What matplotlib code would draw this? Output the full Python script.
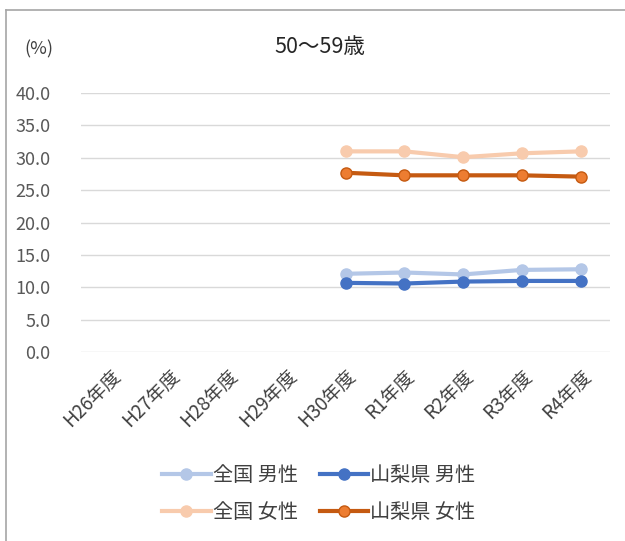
import matplotlib
matplotlib.use('Agg')
import matplotlib.pyplot as plt
from matplotlib.lines import Line2D

plt.rcParams['font.family'] = ['Noto Sans CJK JP', 'DejaVu Sans']

categories = ['H26年度', 'H27年度', 'H28年度', 'H29年度', 'H30年度',
              'R1年度', 'R2年度', 'R3年度', 'R4年度']
# only the last five years have values
zenkoku_male = [None, None, None, None, 12.1, 12.3, 12.0, 12.7, 12.8]
yamanashi_male = [None, None, None, None, 10.7, 10.6, 10.9, 11.0, 11.0]
zenkoku_female = [None, None, None, None, 31.0, 31.0, 30.1, 30.7, 31.0]
yamanashi_female = [None, None, None, None, 27.7, 27.3, 27.3, 27.3, 27.1]
yticks = [0, 5, 10, 15, 20, 25, 30, 35, 40]

fig = plt.figure(figsize=(6.25, 5.41), dpi=100)
ax = fig.add_axes([0.13, 0.349, 0.846, 0.479])

x = list(range(len(categories)))


def to_nan(vals):
    return [float('nan') if v is None else v for v in vals]


series = {
    '全国 男性': (zenkoku_male, '#B4C7E7', '#B4C7E7', '#B4C7E7'),
    '山梨県 男性': (yamanashi_male, '#4472C4', '#4472C4', '#4472C4'),
    '全国 女性': (zenkoku_female, '#F8CBAD', '#F8CBAD', '#F8CBAD'),
    '山梨県 女性': (yamanashi_female, '#C55A11', '#ED7D31', '#C55A11'),
}
handles = {}
for name, (vals, lc, mfc, mec) in series.items():
    ax.plot(x, to_nan(vals), color=lc, lw=3, marker='o', ms=8,
            mfc=mfc, mec=mec, mew=1, zorder=3)
    handles[name] = Line2D([], [], color=lc, lw=3, marker='o', ms=8,
                           mfc=mfc, mec=mec, mew=1)

ax.set_xlim(-0.5, len(categories) - 0.5)
ax.set_ylim(0, 40)
ax.set_yticks(yticks)
ax.set_yticklabels(['%.1f' % v for v in yticks])
ax.set_xticks(x)
ax.set_xticklabels(categories, rotation=45, ha='right', rotation_mode='anchor')
ax.grid(axis='y', color='#D9D9D9', lw=1)
ax.set_axisbelow(True)
for s in ax.spines.values():
    s.set_visible(False)
ax.tick_params(axis='y', length=0, labelsize=13, colors='#595959', pad=22)
ax.tick_params(axis='x', length=0, labelsize=13.5, colors='#404040', pad=10)

fig.text(0.512, 0.913, '50～59歳', ha='center', va='center', fontsize=15.5, color='#262626')
fig.text(0.063, 0.908, '(%)', ha='center', va='center', fontsize=13, color='#404040')

# legend filled column by column so rows read: male / female
order = ['全国 男性', '全国 女性', '山梨県 男性', '山梨県 女性']
fig.legend([handles[k] for k in order], order, ncol=2, loc='center',
           bbox_to_anchor=(0.51, 0.087), frameon=False, fontsize=14.5,
           handlelength=2.4, columnspacing=1.1, labelspacing=0.8,
           handletextpad=0.1, labelcolor='#404040')

# outer chart border (top and left edges visible)
fig.add_artist(Line2D([6 / 625, 6 / 625], [0, 1 - 10 / 541], transform=fig.transFigure,
                      color='#A6A6A6', lw=1.2))
fig.add_artist(Line2D([6 / 625, 1], [1 - 10 / 541, 1 - 10 / 541], transform=fig.transFigure,
                      color='#A6A6A6', lw=1.2))

fig.savefig('out.png', dpi=100, facecolor='white')
